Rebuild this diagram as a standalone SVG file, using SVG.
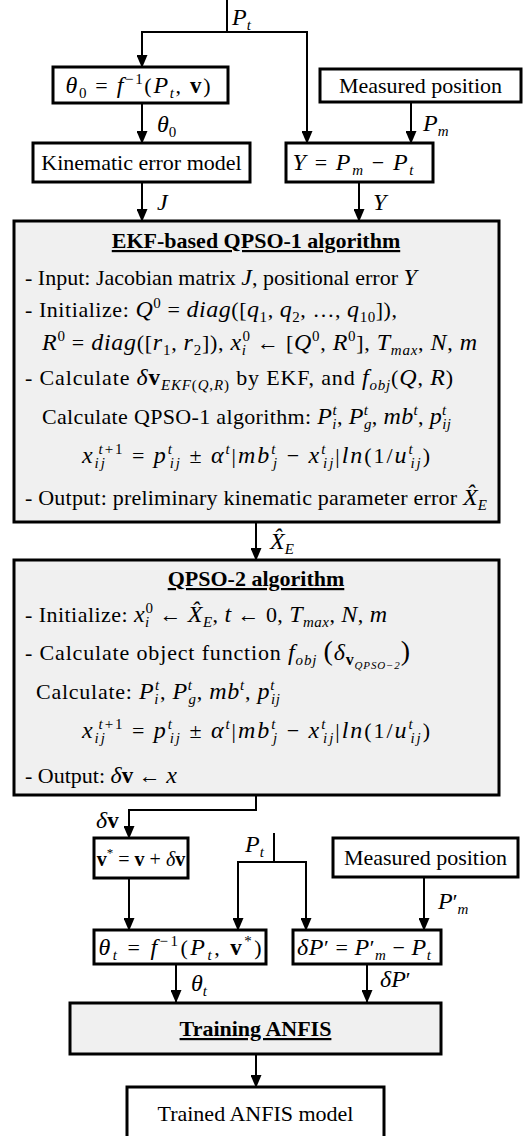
<svg xmlns="http://www.w3.org/2000/svg" width="531" height="1136" viewBox="0 0 531 1136">
<defs>
<style>
text{font-family:"Liberation Serif","Times New Roman",serif;font-size:22px;fill:#000}
.m{font-style:italic;font-size:24px}
.bv{font-weight:bold;font-style:normal;font-size:23px}
.h{font-weight:bold;text-decoration:underline}
.sb{font-size:15px;baseline-shift:-5px}
.sp{font-size:15px;baseline-shift:9px}
.ss{font-size:11px;baseline-shift:-9px}
.box{fill:#fff;stroke:#000;stroke-width:3}
.gbox{fill:#f0f0f0;stroke:#000;stroke-width:3}
.c{fill:none;stroke:#000;stroke-width:2}
.a{fill:none;stroke:#000;stroke-width:2;marker-end:url(#ah)}
.mid{text-anchor:middle}
.v20{font-size:20px}
</style>
<marker id="ah" viewBox="0 0 13 11" refX="12" refY="5.5" markerWidth="13" markerHeight="11" markerUnits="userSpaceOnUse" orient="auto"><path d="M0,0L13,5.5L0,11z" fill="#000"/></marker>
</defs>

<g id="connectors">
<path class="c" d="M227,0V32"/>
<path class="a" d="M227,32H142V67"/>
<path class="a" d="M227,32H307V143"/>
<path class="a" d="M142,103V143"/>
<path class="a" d="M411,102V143"/>
<path class="a" d="M142,182V221"/>
<path class="a" d="M359,182V221"/>
<path class="a" d="M256,522V560"/>
<path class="a" d="M256,795V810H129V838"/>
<path class="a" d="M129,878V930"/>
<path class="c" d="M274,833V862"/>
<path class="a" d="M274,862H238V930"/>
<path class="a" d="M274,862H306V930"/>
<path class="a" d="M424,877V930"/>
<path class="a" d="M176,964V1002"/>
<path class="a" d="M367,964V1002"/>
<path class="a" d="M256,1054V1087"/>
<text x="232" y="25"><tspan class="m">P</tspan><tspan class="sb m">t</tspan></text>
<text x="157" y="132"><tspan class="m">θ</tspan><tspan class="sb">0</tspan></text>
<text x="423" y="131"><tspan class="m">P</tspan><tspan class="sb m">m</tspan></text>
<text x="157" y="210" class="m">J</text>
<text x="373" y="210" class="m">Y</text>
<text x="270" y="549"><tspan class="m">X̂</tspan><tspan class="sb m">E</tspan></text>
<text x="96" y="828"><tspan class="m">δ</tspan><tspan class="bv">v</tspan></text>
<text x="245" y="852"><tspan class="m">P</tspan><tspan class="sb m">t</tspan></text>
<text x="438" y="909"><tspan class="m">P</tspan><tspan>′</tspan><tspan class="sb m">m</tspan></text>
<text x="191" y="991"><tspan class="m">θ</tspan><tspan class="sb m">t</tspan></text>
<text x="380" y="987"><tspan class="m">δP</tspan>′</text>
</g>

<g id="n-theta0">
<rect class="box" x="53" y="67" width="175" height="36"/>
<text class="mid" x="138" y="93" textLength="145" lengthAdjust="spacing"><tspan class="m">θ</tspan><tspan class="sb">0</tspan> = <tspan class="m">f</tspan><tspan class="sp">−1</tspan>(<tspan class="m">P</tspan><tspan class="sb m">t</tspan>, <tspan class="bv">v</tspan>)</text>
</g>

<g id="n-meas1">
<rect class="box" x="320" y="69" width="201" height="33"/>
<text class="mid" x="420.5" y="93">Measured position</text>
</g>

<g id="n-kin">
<rect class="box" x="33" y="143" width="217" height="39"/>
<text class="mid" x="141.5" y="170">Kinematic error model</text>
</g>

<g id="n-Y">
<rect class="box" x="286" y="143" width="147" height="39"/>
<text class="mid" x="353" y="170" textLength="121" lengthAdjust="spacing"><tspan class="m">Y</tspan> = <tspan class="m">P</tspan><tspan class="sb m">m</tspan> − <tspan class="m">P</tspan><tspan class="sb m">t</tspan></text>
</g>

<g id="n-ekf">
<rect class="gbox" x="14" y="221" width="485" height="301"/>
<text class="mid h" x="256" y="248">EKF-based QPSO-1 algorithm</text>
<text x="25" y="285">- Input: Jacobian matrix <tspan class="m">J</tspan>, positional error <tspan class="m">Y</tspan></text>
<text x="25" y="317" textLength="372" lengthAdjust="spacing">- Initialize: <tspan class="m">Q</tspan><tspan class="sp">0</tspan> = <tspan class="m">diag</tspan>([<tspan class="m">q</tspan><tspan class="sb">1</tspan>, <tspan class="m">q</tspan><tspan class="sb">2</tspan>, …, <tspan class="m">q</tspan><tspan class="sb">10</tspan>]),</text>
<text x="42" y="350" textLength="435" lengthAdjust="spacing"><tspan class="m">R</tspan><tspan class="sp">0</tspan> = <tspan class="m">diag</tspan>([<tspan class="m">r</tspan><tspan class="sb">1</tspan>, <tspan class="m">r</tspan><tspan class="sb">2</tspan>]), <tspan class="m">x</tspan><tspan class="sb m">i</tspan><tspan class="sp" dx="-4.2">0</tspan> ← [<tspan class="m">Q</tspan><tspan class="sp">0</tspan>, <tspan class="m">R</tspan><tspan class="sp">0</tspan>], <tspan class="m">T</tspan><tspan class="sb m">max</tspan>, <tspan class="m">N</tspan>, <tspan class="m">m</tspan></text>
<text x="25" y="385" textLength="428" lengthAdjust="spacing">- Calculate <tspan class="m">δ</tspan><tspan class="bv">v</tspan><tspan class="sb m">EKF</tspan><tspan class="sb">(</tspan><tspan class="sb m">Q</tspan><tspan class="sb">,</tspan><tspan class="sb m">R</tspan><tspan class="sb">)</tspan> by EKF, and <tspan class="m">f</tspan><tspan class="sb m">obj</tspan>(<tspan class="m">Q</tspan>, <tspan class="m">R</tspan>)</text>
<text x="42" y="424" textLength="409" lengthAdjust="spacing">Calculate QPSO-1 algorithm: <tspan class="m">P</tspan><tspan class="sb m">i</tspan><tspan class="sp m" dx="-4.2">t</tspan>, <tspan class="m">P</tspan><tspan class="sp m">t</tspan><tspan class="sb m" dx="-4.2">g</tspan>, <tspan class="m">mb</tspan><tspan class="sp m">t</tspan>, <tspan class="m">p</tspan><tspan class="sp m">t</tspan><tspan class="sb m" dx="-4.2">ij</tspan></text>
<text class="mid" x="256" y="463" textLength="348" lengthAdjust="spacing"><tspan class="m">x</tspan><tspan class="sb m">ij</tspan><tspan class="sp" dx="-8.3"><tspan class="m" style="font-size:15px">t</tspan>+1</tspan> = <tspan class="m">p</tspan><tspan class="sp m">t</tspan><tspan class="sb m" dx="-4.2">ij</tspan> ± <tspan class="m">α</tspan><tspan class="sp m">t</tspan>|<tspan class="m">mb</tspan><tspan class="sp m">t</tspan><tspan class="sb m" dx="-4.2">j</tspan> − <tspan class="m">x</tspan><tspan class="sp m">t</tspan><tspan class="sb m" dx="-4.2">ij</tspan>|<tspan class="m">ln</tspan>(1/<tspan class="m">u</tspan><tspan class="sp m">t</tspan><tspan class="sb m" dx="-4.2">ij</tspan>)</text>
<text x="25" y="505" textLength="462" lengthAdjust="spacing">- Output: preliminary kinematic parameter error <tspan class="m">X̂</tspan><tspan class="sb m">E</tspan></text>
</g>

<g id="n-qpso2">
<rect class="gbox" x="14" y="560" width="485" height="235"/>
<text class="mid h" x="256" y="586">QPSO-2 algorithm</text>
<text x="25" y="622" textLength="362" lengthAdjust="spacing">- Initialize: <tspan class="m">x</tspan><tspan class="sb m">i</tspan><tspan class="sp" dx="-4.2">0</tspan> ← <tspan class="m">X̂</tspan><tspan class="sb m">E</tspan>, <tspan class="m">t</tspan> ← 0, <tspan class="m">T</tspan><tspan class="sb m">max</tspan>, <tspan class="m">N</tspan>, <tspan class="m">m</tspan></text>
<text x="25" y="660" textLength="385" lengthAdjust="spacing">- Calculate object function <tspan class="m">f</tspan><tspan class="sb m">obj</tspan> <tspan style="font-size:28px">(</tspan><tspan class="m">δ</tspan><tspan class="sb bv" style="font-size:16px">v</tspan><tspan class="ss m">QPSO−2</tspan><tspan style="font-size:28px">)</tspan></text>
<text x="36" y="699" textLength="244" lengthAdjust="spacing">Calculate: <tspan class="m">P</tspan><tspan class="sb m">i</tspan><tspan class="sp m" dx="-4.2">t</tspan>, <tspan class="m">P</tspan><tspan class="sp m">t</tspan><tspan class="sb m" dx="-4.2">g</tspan>, <tspan class="m">mb</tspan><tspan class="sp m">t</tspan>, <tspan class="m">p</tspan><tspan class="sp m">t</tspan><tspan class="sb m" dx="-4.2">ij</tspan></text>
<text class="mid" x="256" y="738" textLength="348" lengthAdjust="spacing"><tspan class="m">x</tspan><tspan class="sb m">ij</tspan><tspan class="sp" dx="-8.3"><tspan class="m" style="font-size:15px">t</tspan>+1</tspan> = <tspan class="m">p</tspan><tspan class="sp m">t</tspan><tspan class="sb m" dx="-4.2">ij</tspan> ± <tspan class="m">α</tspan><tspan class="sp m">t</tspan>|<tspan class="m">mb</tspan><tspan class="sp m">t</tspan><tspan class="sb m" dx="-4.2">j</tspan> − <tspan class="m">x</tspan><tspan class="sp m">t</tspan><tspan class="sb m" dx="-4.2">ij</tspan>|<tspan class="m">ln</tspan>(1/<tspan class="m">u</tspan><tspan class="sp m">t</tspan><tspan class="sb m" dx="-4.2">ij</tspan>)</text>
<text x="25" y="783">- Output: <tspan class="m">δ</tspan><tspan class="bv">v</tspan> ← <tspan class="m">x</tspan></text>
</g>

<g id="n-vstar">
<rect class="box" x="94" y="838" width="94" height="40"/>
<text class="mid v20" x="141" y="866"><tspan class="bv v20">v</tspan><tspan class="sp" style="font-size:13px">*</tspan> = <tspan class="bv v20">v</tspan> + <tspan class="m v20">δ</tspan><tspan class="bv v20">v</tspan></text>
</g>

<g id="n-meas2">
<rect class="box" x="333" y="838" width="185" height="39"/>
<text class="mid" x="425.5" y="865">Measured position</text>
</g>

<g id="n-thetat">
<rect class="box" x="94" y="930" width="172" height="34"/>
<text class="mid" x="180" y="955" textLength="163" lengthAdjust="spacing"><tspan class="m">θ</tspan><tspan class="sb m">t</tspan> = <tspan class="m">f</tspan><tspan class="sp">−1</tspan>(<tspan class="m">P</tspan><tspan class="sb m">t</tspan>, <tspan class="bv">v</tspan><tspan class="sp">*</tspan>)</text>
</g>

<g id="n-dP">
<rect class="box" x="293" y="930" width="148" height="34"/>
<text class="mid" x="364" y="955" textLength="134" lengthAdjust="spacing"><tspan class="m">δP</tspan>′ = <tspan class="m">P</tspan>′<tspan class="sb m">m</tspan> − <tspan class="m">P</tspan><tspan class="sb m">t</tspan></text>
</g>

<g id="n-anfis">
<rect class="gbox" x="70" y="1003" width="371" height="51"/>
<text class="mid h" x="255.5" y="1036">Training ANFIS</text>
</g>

<g id="n-trained">
<rect class="box" x="127" y="1087" width="257" height="60"/>
<text class="mid" x="255.5" y="1121">Trained ANFIS model</text>
</g>
</svg>
